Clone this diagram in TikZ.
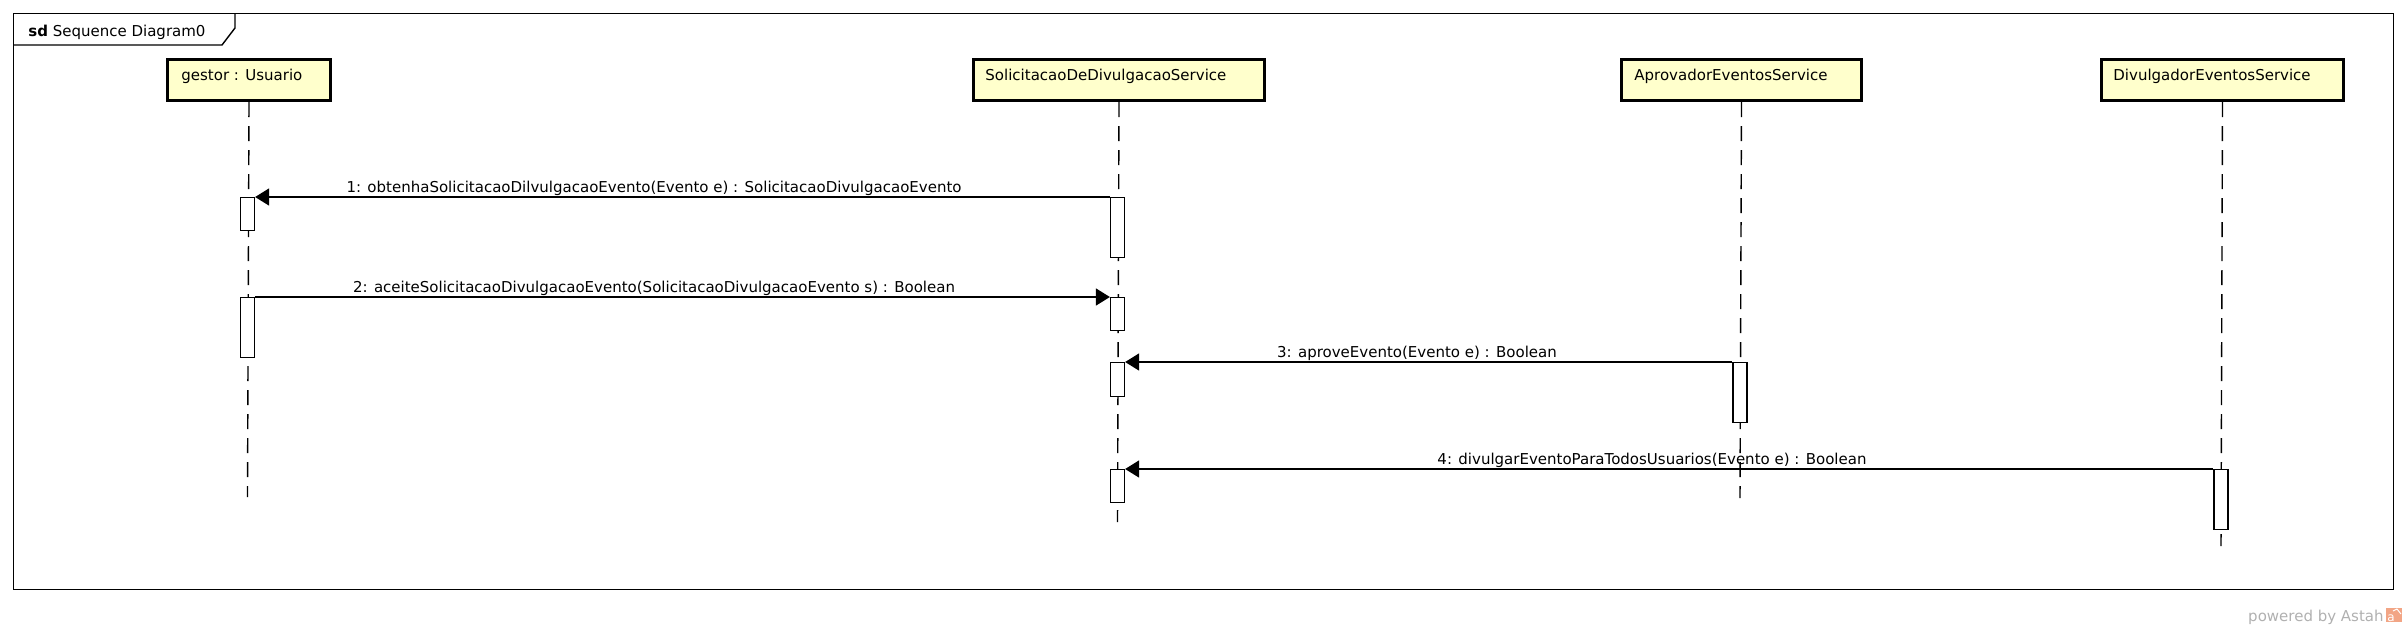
\documentclass[tikz,border=0pt]{standalone}
\usepackage{fontspec}
\setmainfont{DejaVu Sans}
\usetikzlibrary{arrows.meta}
\definecolor{lifefill}{HTML}{FFFFCC}
\definecolor{astahgray}{HTML}{B0B0B0}
\definecolor{astahorange}{HTML}{F2A585}
\begin{document}
\begin{tikzpicture}[x=0.5pt,y=-0.5pt,
  font=\fontsize{7.5}{9}\selectfont,
  framebox/.style={draw, line width=0.7pt, anchor=north west, inner sep=0pt},
  lifebox/.style={draw, line width=1.5pt, fill=lifefill, anchor=north west, inner sep=0pt, minimum height=20.5pt},
  lbltext/.style={anchor=base west, inner sep=0pt},
  lifeline/.style={line width=0.7pt, dash pattern=on 7.5pt off 4.5pt},
  act/.style={draw, fill=white, line width=0.6pt, minimum width=7pt, inner sep=0pt, anchor=north},
  msg/.style={line width=0.7pt, -{Triangle[length=7pt,width=8.5pt]}},
  msglbl/.style={anchor=base, inner sep=0pt}]
\useasboundingbox (0,0) rectangle (2406,629);
% frame
\node[framebox, minimum width=1190pt, minimum height=288pt] (frm) at (13,13) {};
\coordinate (tabA) at (235,13);
\coordinate (tabB) at (235,28);
\coordinate (tabC) at (222,45);
\coordinate (tabD) at (13,45);
\draw[line width=0.7pt] (tabA) -- (tabB) -- (tabC) -- (tabD);
\node[lbltext] (frmtitle) at (28,36) {\textbf{sd} Sequence Diagram0};
% lifeline heads
\node[lifebox, minimum width=81.5pt] (gestor) at (166,58) {};
\node[lbltext] (gestorT) at (181,80) {gestor : Usuario};
\node[lifebox, minimum width=145.5pt] (solic) at (972,58) {};
\node[lbltext] (solicT) at (985,80) {SolicitacaoDeDivulgacaoService};
\node[lifebox, minimum width=120pt] (aprov) at (1620,58) {};
\node[lbltext] (aprovT) at (1634,80) {AprovadorEventosService};
\node[lifebox, minimum width=121pt] (divul) at (2100,58) {};
\node[lbltext] (divulT) at (2113,80) {DivulgadorEventosService};
% lifelines
\coordinate (gEnd) at (247.5,497);
\coordinate (sEnd) at (1117.5,522);
\coordinate (aEnd) at (1740,498);
\coordinate (dEnd) at (2221,546);
\draw[lifeline] (gestor.south) -- (gEnd);
\draw[lifeline] (solic.south) -- (sEnd);
\draw[lifeline] (aprov.south) -- (aEnd);
\draw[lifeline] (divul.south) -- (dEnd);
% activations
\node[act, minimum height=16.5pt] (g1) at (247.5,197) {};
\node[act, minimum height=30pt] (g2) at (247.5,297) {};
\node[act, minimum height=30pt] (s1) at (1117.5,197) {};
\node[act, minimum height=16.5pt] (s2) at (1117.5,297) {};
\node[act, minimum height=17pt] (s3) at (1117.5,362) {};
\node[act, minimum height=16.5pt] (s4) at (1117.5,469) {};
\node[act, minimum height=30pt] (a1) at (1740,362) {};
\node[act, minimum height=30pt] (d1) at (2221,469) {};
% messages
\draw[msg] (s1.north west) -- (g1.north east);
\node[msglbl] (m1) at (654,192) {1: obtenhaSolicitacaoDilvulgacaoEvento(Evento e) : SolicitacaoDivulgacaoEvento};
\draw[msg] (g2.north east) -- (s2.north west);
\node[msglbl] (m2) at (654,292) {2: aceiteSolicitacaoDivulgacaoEvento(SolicitacaoDivulgacaoEvento s) : Boolean};
\draw[msg] (a1.north west) -- (s3.north east);
\node[msglbl] (m3) at (1417,357) {3: aproveEvento(Evento e) : Boolean};
\draw[msg] (d1.north west) -- (s4.north east);
\node[msglbl] (m4) at (1652,464) {4: divulgarEventoParaTodosUsuarios(Evento e) : Boolean};
% powered by
\node[anchor=base east, inner sep=0pt, text=astahgray] (pow) at (2384,621) {powered by Astah};
\node[fill=astahorange, minimum width=8pt, minimum height=7pt, inner sep=0pt, anchor=north west] (logo) at (2386,608) {};
\node[text=white, inner sep=0pt, anchor=base west, font=\fontsize{6}{6}\selectfont] (logoA) at (2387,621) {a};
\coordinate (hatA) at (2393,611);
\coordinate (hatB) at (2397,609);
\coordinate (hatC) at (2401,614);
\draw[white, line width=0.5pt] (hatA) -- (hatB) -- (hatC);
\end{tikzpicture}
\end{document}
